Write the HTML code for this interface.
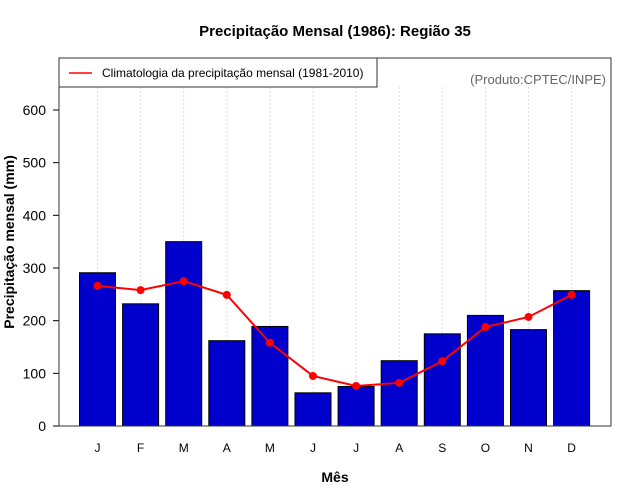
<!DOCTYPE html>
<html><head><meta charset="utf-8"><style>
body{margin:0;background:#fff;}
svg{display:block;font-family:"Liberation Sans",sans-serif;}
</style></head><body>
<svg id="c" width="640" height="500">
<text x="335" y="36" text-anchor="middle" font-size="15" font-weight="bold">Precipitação Mensal (1986): Região 35</text>
<g id="grid"></g>
<g id="bars"></g>
<g id="line"></g>
<g id="axes"></g>
<rect x="59" y="58" width="552" height="368" fill="none" stroke="#333" stroke-width="1"/>
<g>
<rect x="59" y="58" width="318" height="29" fill="#fff" stroke="#333"/>
<line x1="69" y1="73" x2="92" y2="73" stroke="red" stroke-width="1.5"/>
<text x="102" y="77" font-size="12">Climatologia da precipitação mensal (1981-2010)</text>
</g>
<text x="606" y="84" text-anchor="end" font-size="13" fill="#666">(Produto:CPTEC/INPE)</text>
<text x="335" y="482" text-anchor="middle" font-size="14" font-weight="bold">Mês</text>
<text transform="translate(14,242) rotate(-90)" text-anchor="middle" font-size="14" font-weight="bold">Precipitação mensal (mm)</text>
</svg>
<script>
const months=["J","F","M","A","M","J","J","A","S","O","N","D"];
const observed=[291,232,350,162,189,63,75,124,175,210,183,257];
const climatology=[266,258,275,249,158,95,76,82,123,188,207,249];
const yTicks=[0,100,200,300,400,500,600];
const NS="http://www.w3.org/2000/svg";
function y(v){return 426-v*(316/600);}
function x(i){return 97.5+i*43.1;}
const grid=document.getElementById('grid'),bars=document.getElementById('bars'),line=document.getElementById('line'),axes=document.getElementById('axes');
function mk(tag,attrs,parent){const e=document.createElementNS(NS,tag);for(const k in attrs)e.setAttribute(k,attrs[k]);parent.appendChild(e);return e;}
months.forEach((m,i)=>{
 const g=mk('line',{x1:x(i),x2:x(i),y1:87,y2:426,stroke:'#ddd','stroke-dasharray':'2,2'},grid);
 
 
 const b=mk('rect',{x:x(i)-18,y:y(observed[i]),width:36,height:426-y(observed[i]),fill:'#0000cc',stroke:'#000','stroke-width':1},bars);
 
 
 const t=mk('text',{x:x(i),y:452,'text-anchor':'middle','font-size':12},axes);
 t.textContent=m;
 
 
});
const pl=mk('polyline',{points:climatology.map((v,i)=>x(i)+','+y(v)).join(' '),fill:'none',stroke:'red','stroke-width':2},line);


climatology.forEach((v,i)=>{
 const c=mk('circle',{cx:x(i),cy:y(v),r:4,fill:'red'},line);
 
 
});
yTicks.forEach(v=>{
 const l=mk('line',{x1:53,x2:59,y1:y(v),y2:y(v),stroke:'#000'},axes);
 
 
 const t=mk('text',{x:46,y:y(v)+5,'text-anchor':'end','font-size':14},axes);
 t.textContent=v;
 
 
});
</script>
</body></html>
